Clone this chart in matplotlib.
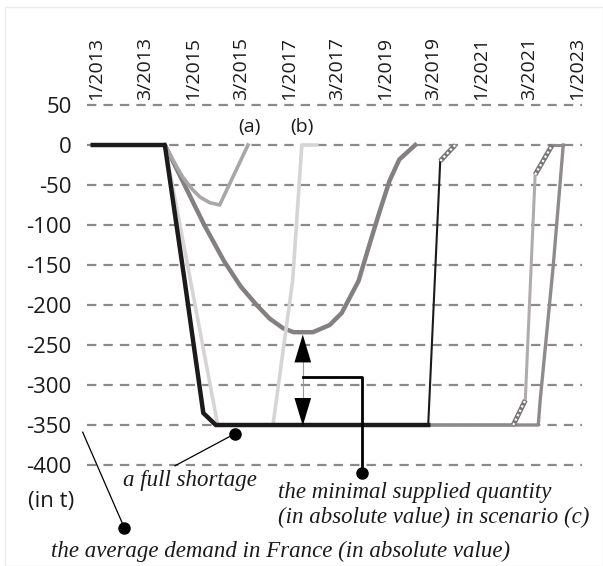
import matplotlib
matplotlib.use("Agg")
import matplotlib.pyplot as plt
from matplotlib.patches import Rectangle

# ---------------- data ----------------
tick_labels = ["1/2013", "3/2013", "1/2015", "3/2015", "1/2017", "3/2017",
               "1/2019", "3/2019", "1/2021", "3/2021", "1/2023"]
y_ticks = [50, 0, -50, -100, -150, -200, -250, -300, -350, -400]
y_labels = ["50", "0", "-50", "-100", "-150", "-200", "-250", "-300", "-350", "-400"]

# full shortage (thick black)
full_x = [-0.08, 1.42, 1.83, 2.22, 2.48, 6.9]
full_y = [0, 0, -169, -335, -350, -350]

# scenario (a)
a_x = [1.42, 1.6, 1.79, 2.0, 2.15, 2.35, 2.56, 3.15]
a_y = [0, -20, -40, -56, -65, -72, -75, 0]

# scenario (b)
b_x = [1.42, 2.52, 3.67, 4.08, 4.27, 4.58]
b_y = [0, -350, -350, -169, 0, 0]

# scenario (c)
c_x = [1.42, 1.83, 2.24, 2.65, 3.0, 3.33, 3.6, 3.88, 4.1, 4.5, 4.85, 5.1, 5.45, 5.7, 5.9, 6.1, 6.3, 6.63]
c_y = [0, -50, -100, -145, -177, -200, -217, -229, -234, -234, -225, -210, -170, -120, -81, -44, -18, 0]

# scenario (d) (thin dark rise + hatched end)
d_x = [6.9, 7.15]
d_y = [-350, -20]
d_hatch_x = [7.15, 7.46]
d_hatch_y = [-20, 0]

# scenario (e) (light, hatched parts)
e_x = [6.9, 8.67]
e_y = [-350, -350]
e_hatch1_x = [8.67, 8.92]
e_hatch1_y = [-350, -319]
e_mid_x = [8.92, 9.125]
e_mid_y = [-319, -37]
e_hatch2_x = [9.125, 9.48]
e_hatch2_y = [-37, 0]
e_top_x = [9.48, 9.71]
e_top_y = [0, 0]

# scenario (f) (solid gray)
f_x = [8.67, 9.19, 9.23, 9.5, 9.71]
f_y = [-350, -350, -319, -152, 0]

# ---------------- figure ----------------
W, H = 603, 566
fig = plt.figure(figsize=(W / 100, H / 100), dpi=100)
fig.patch.set_facecolor("white")
fig.add_artist(Rectangle((5 / W, 0), 1 - 5 / W, 1 - 7 / H, transform=fig.transFigure,
                         fill=False, edgecolor="#ececec", linewidth=1))

sans = ["Open Sans", "DejaVu Sans"]

ax = fig.add_axes([87 / W, 1 - 469 / H, 495 / W, 368 / H])
ax.set_xlim(-0.2, 10.1)
ax.set_ylim(-405, 55)
for s in ax.spines.values():
    s.set_visible(False)

for yv in y_ticks:
    ax.axhline(yv, color="#8a8a8a", linewidth=1.6, dashes=(4.2, 3.2), zorder=1)

ax.set_yticks(y_ticks)
ax.set_yticklabels(y_labels, fontsize=16, color="#1a1a1a", family=sans)
ax.tick_params(axis="y", length=0, pad=11)
ax.xaxis.tick_top()
ax.set_xticks(range(len(tick_labels)))
ax.set_xticklabels(tick_labels, rotation=90, fontsize=14, color="#1a1a1a", family=sans)
ax.tick_params(axis="x", length=0, pad=1)

# lines
ax.plot(c_x, c_y, color="#858080", linewidth=3.2, zorder=3, solid_joinstyle="round")
ax.plot(a_x, a_y, color="#a8a6a6", linewidth=2.6, zorder=3)
ax.plot(b_x, b_y, color="#d6d4d4", linewidth=2.6, zorder=3)
ax.plot(e_x, e_y, color="#8c8a8a", linewidth=2.6, zorder=3)
ax.plot(f_x, f_y, color="#8f8b8b", linewidth=2.4, zorder=3)
ax.plot(e_mid_x, e_mid_y, color="#b0acac", linewidth=2.2, zorder=3)
ax.plot(e_top_x, e_top_y, color="#8f8b8b", linewidth=2.2, zorder=3)
for hx, hy in [(e_hatch1_x, e_hatch1_y), (e_hatch2_x, e_hatch2_y), (d_hatch_x, d_hatch_y)]:
    ax.plot(hx, hy, color="#7a7676", linewidth=3.6, zorder=4, solid_capstyle="butt")
    ax.plot(hx, hy, color="white", linewidth=1.6, dashes=(1, 1.2), zorder=5)
ax.plot(d_x, d_y, color="#1a1a1a", linewidth=1.5, zorder=4)
ax.plot(full_x, full_y, color="#1c1a1a", linewidth=3.2, zorder=6, solid_joinstyle="round")

# labels (a), (b)
ax.text(3.17, 22, "(a)", fontsize=14, ha="center", va="center", color="#1a1a1a", family=sans)
ax.text(4.27, 22, "(b)", fontsize=14, ha="center", va="center", color="#1a1a1a", family=sans)

# double arrow
arr_x = 4.29
ax.plot([arr_x, arr_x], [-340, -245], color="#9a9a9a", linewidth=0.8, zorder=6)
ax.annotate("", xy=(arr_x, -237), xytext=(arr_x, -300),
            arrowprops=dict(arrowstyle="-|>,head_length=1.0,head_width=0.3",
                            color="black", mutation_scale=20, shrinkA=0, shrinkB=0,
                            linewidth=0.01), zorder=7)
ax.annotate("", xy=(arr_x, -351), xytext=(arr_x, -290),
            arrowprops=dict(arrowstyle="-|>,head_length=1.0,head_width=0.3",
                            color="black", mutation_scale=20, shrinkA=0, shrinkB=0,
                            linewidth=0.01), zorder=7)

# pointer for minimal supplied quantity
ax.plot([arr_x, 5.52, 5.52], [-290, -290, -410], color="black", linewidth=2.0,
        zorder=7, clip_on=False)
ax.plot([5.52], [-410], "o", color="black", markersize=8, zorder=8, clip_on=False)

# pointer for full shortage
ax.plot([1.63, 2.875], [-401, -361], color="black", linewidth=0.9, zorder=7, clip_on=False)
ax.plot([2.875], [-361], "o", color="black", markersize=8, zorder=8, clip_on=False)

# pointer for average demand
ax.plot([-0.29, 0.58], [-359, -479], color="black", linewidth=0.9, zorder=7, clip_on=False)
ax.plot([0.58], [-479], "o", color="black", markersize=8, zorder=8, clip_on=False)

# texts
serif = dict(family="Liberation Serif", style="italic", fontsize=16.5, color="#1a1a1a")
ax.text(0.54, -419, "a full shortage", ha="left", va="center", clip_on=False, **serif)
ax.text(3.77, -434, "the minimal supplied quantity", ha="left", va="center", clip_on=False, **serif)
ax.text(3.77, -466, "(in absolute value) in scenario (c)", ha="left", va="center", clip_on=False, **serif)
ax.text(-0.94, -508, "the average demand in France (in absolute value)", ha="left", va="center",
        clip_on=False, **serif)
ax.text(-0.94, -446, "(in t)", ha="center", va="center", fontsize=16, color="#1a1a1a",
        family=sans, clip_on=False)

fig.savefig("out.png", dpi=100)
